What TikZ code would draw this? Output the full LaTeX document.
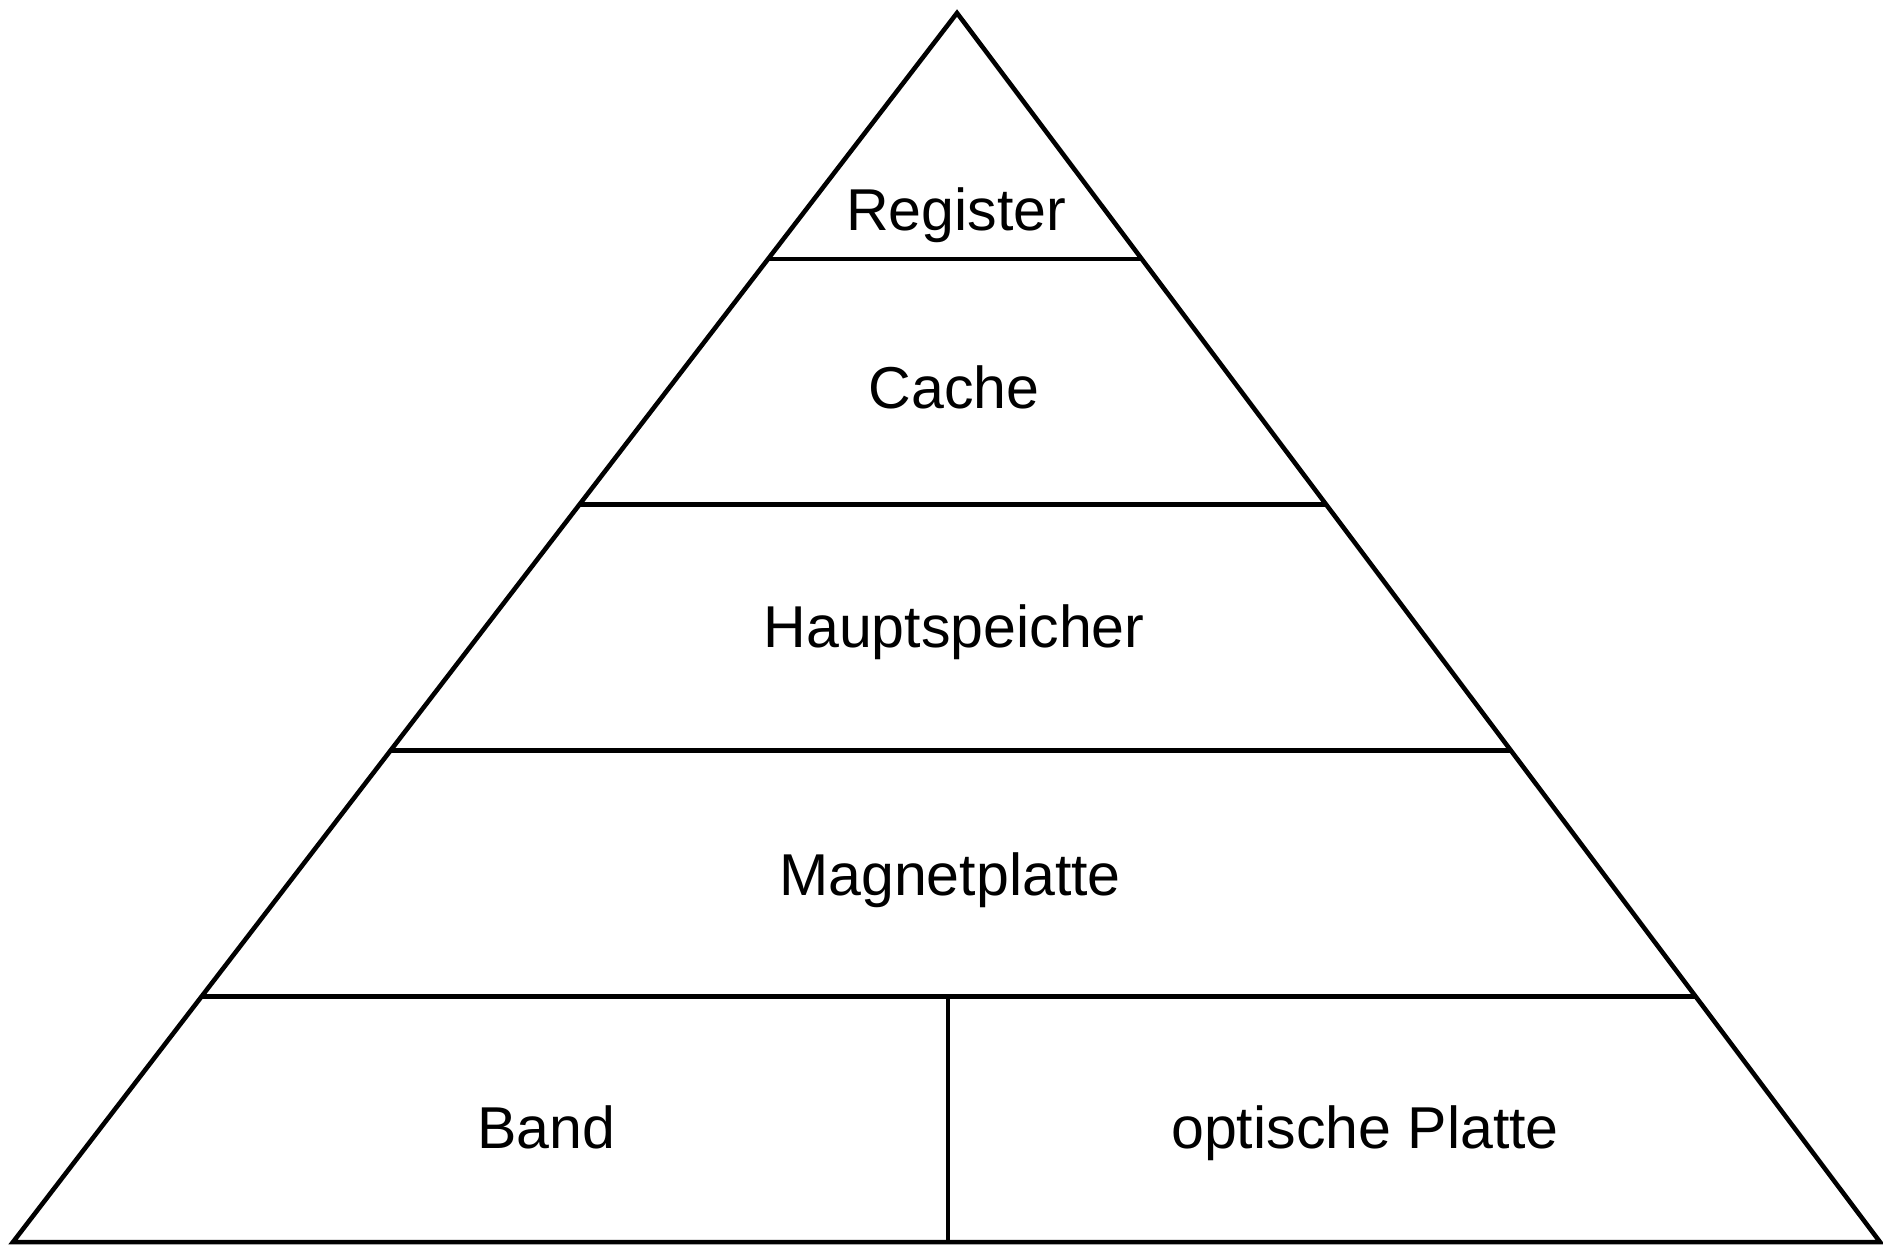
\documentclass[tikz,border=0pt]{standalone}
\usepackage{fontspec}
\setmainfont{Liberation Sans}
\usetikzlibrary{calc}

\tikzset{
  layer/.style={anchor=base, font=\fontsize{16.8}{20}\selectfont, inner sep=0pt}
}

\begin{document}
\begin{tikzpicture}[x=0.01cm, y=-0.01cm, line width=1.3pt, line join=miter]
  \useasboundingbox (0,0) rectangle (1883,1247);

  \coordinate (top) at (957,13);
  \coordinate (bl) at (13,1242);
  \coordinate (br) at (1880,1242);

  \draw (top) -- (bl) -- (br) -- cycle;

  % layer boundaries at fifths of the height
  \foreach \t in {0.2,0.4,0.6,0.8}
    \draw ($(top)!\t!(bl)$) -- ($(top)!\t!(br)$);

  \coordinate (split) at (948,997);
  \draw (split) -- (split |- bl);

  \node[layer] (reg) at (956,230) {Register};
  \node[layer] (cache) at (954,408) {Cache};
  \node[layer] (haupt) at (954,647) {Hauptspeicher};
  \node[layer] (magnet) at (950,895) {Magnetplatte};
  \node[layer] (band) at (546,1148) {Band};
  \node[layer] (optisch) at (1365,1148) {optische Platte};
\end{tikzpicture}
\end{document}
